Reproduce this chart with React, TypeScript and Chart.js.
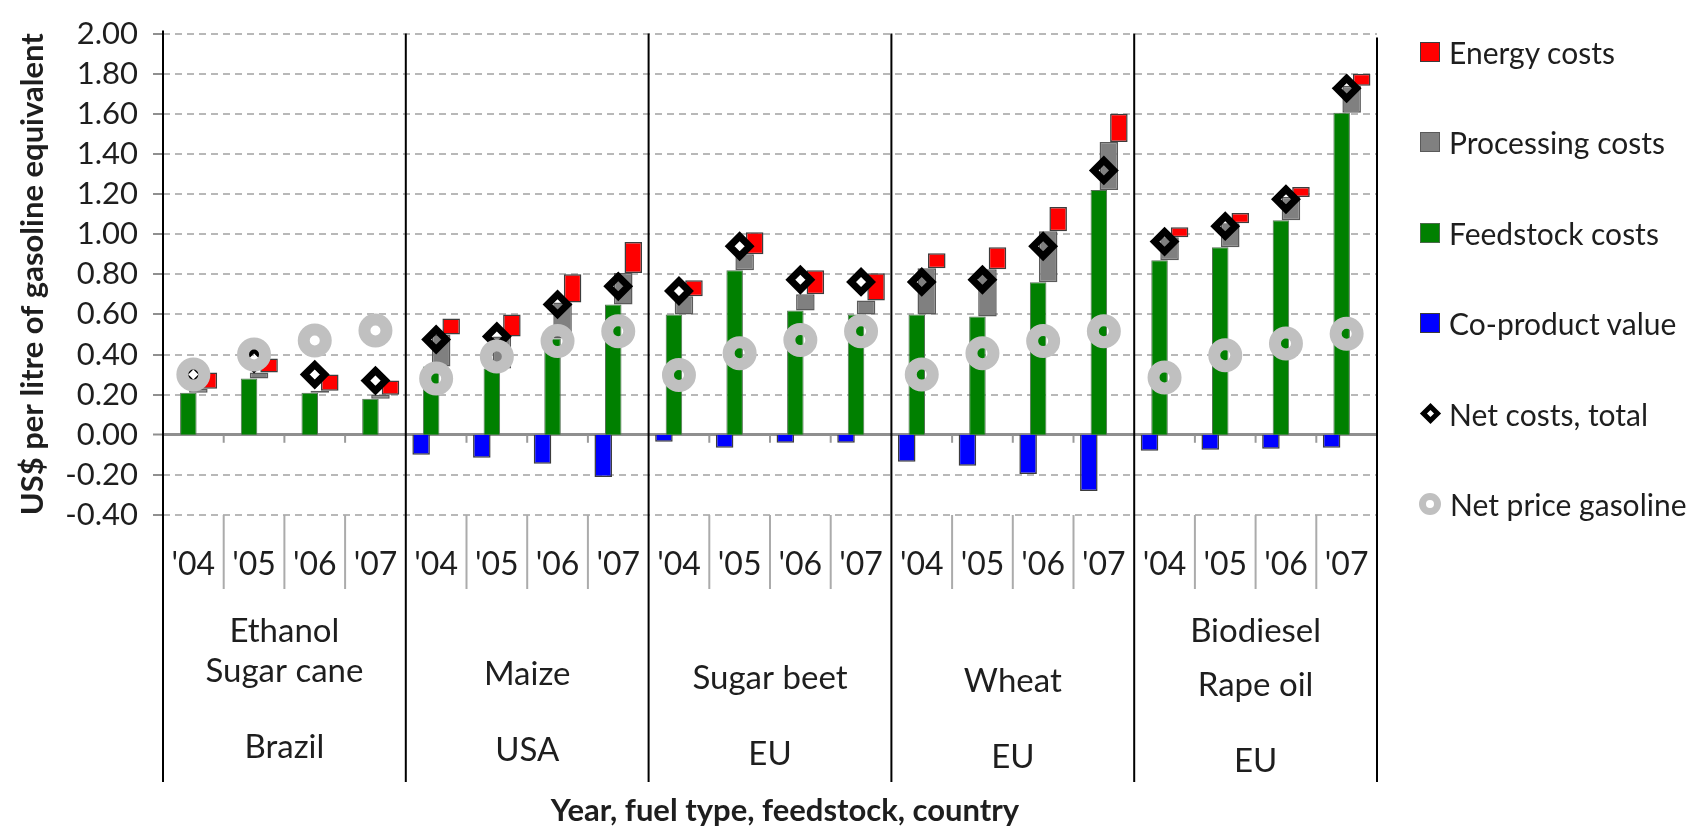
import React, { useEffect, useRef } from 'react';
import { Chart, registerables } from 'chart.js';

Chart.register(...registerables);

// ---------- data ----------
const years = ["'04", "'05", "'06", "'07"];
const fuelTypes = ['Ethanol', '', '', '', 'Biodiesel'];
const feedstocks = ['Sugar cane', 'Maize', 'Sugar beet', 'Wheat', 'Rape oil'];
const countries = ['Brazil', 'USA', 'EU', 'EU', 'EU'];

const feedstockCosts = [
  0.21, 0.28, 0.21, 0.18,
  0.34, 0.33, 0.48, 0.65,
  0.60, 0.82, 0.62, 0.60,
  0.60, 0.59, 0.76, 1.22,
  0.87, 0.935, 1.07, 1.605,
];
const processingCosts = [
  0.02, 0.03, 0.01, 0.02,
  0.16, 0.16, 0.18, 0.156,
  0.09, 0.08, 0.08, 0.07,
  0.23, 0.235, 0.255, 0.24,
  0.115, 0.12, 0.115, 0.135,
];
const energyCosts = [
  0.08, 0.07, 0.08, 0.07,
  0.08, 0.11, 0.14, 0.155,
  0.08, 0.11, 0.12, 0.135,
  0.075, 0.11, 0.12, 0.14,
  0.05, 0.05, 0.05, 0.06,
];
const coProductValue = [
  null, null, null, null,
  -0.10, -0.115, -0.145, -0.21,
  -0.035, -0.065, -0.04, -0.04,
  -0.135, -0.155, -0.195, -0.28,
  -0.08, -0.075, -0.07, -0.065,
];
const netCostsTotal = [
  0.30, 0.38, 0.30, 0.27,
  0.475, 0.49, 0.65, 0.74,
  0.717, 0.94, 0.773, 0.762,
  0.762, 0.773, 0.94, 1.318,
  0.963, 1.04, 1.174, 1.727,
];
const netPriceGasoline = [
  0.30, 0.40, 0.47, 0.52,
  0.28, 0.39, 0.467, 0.516,
  0.298, 0.406, 0.472, 0.516,
  0.30, 0.406, 0.467, 0.516,
  0.286, 0.396, 0.455, 0.504,
];

const yTitle = 'US$ per litre of gasoline equivalent';
const xTitle = 'Year, fuel type, feedstock, country';

// ---------- styles ----------
const FONT = 'Lato, "Open Sans", sans-serif';
const TEXT = '#1e1e1e';
const COLORS = {
  energy: '#ff0000',
  processing: '#808080',
  feedstock: '#008000',
  coproduct: '#0000ff',
  net: '#000000',
  gasoline: '#c0c0c0',
};

const legendItems = [
  { label: 'Energy costs', kind: 'rect', fill: COLORS.energy, stroke: '#3c3c3c' },
  { label: 'Processing costs', kind: 'rect', fill: COLORS.processing, stroke: '#5a5a5a' },
  { label: 'Feedstock costs', kind: 'rect', fill: COLORS.feedstock, stroke: '#4a6a4a' },
  { label: 'Co-product value', kind: 'rect', fill: COLORS.coproduct, stroke: '#3c3c3c' },
  { label: 'Net costs, total', kind: 'diamond', fill: 'transparent', stroke: COLORS.net },
  { label: 'Net price gasoline', kind: 'circle', fill: 'transparent', stroke: COLORS.gasoline },
];

const categories = feedstocks.flatMap(() => years);
const perGroup = years.length;

const decorPlugin = {
  id: 'decor',
  afterDraw(chart: any) {
    const { ctx, chartArea, scales } = chart;
    const x = scales.x;
    const y = scales.y;
    const n = categories.length;
    const zeroY = y.getPixelForValue(0);
    const bottom = chartArea.bottom;
    const line = (x1: number, y1: number, x2: number, y2: number, color: string, w: number) => {
      ctx.beginPath();
      ctx.strokeStyle = color;
      ctx.lineWidth = w;
      ctx.moveTo(x1, y1);
      ctx.lineTo(x2, y2);
      ctx.stroke();
    };
    ctx.save();
    // thin separators between years + small axis ticks on zero line
    for (let i = 1; i < n; i++) {
      if (i % perGroup === 0) continue;
      const bx = (x.getPixelForTick(i - 1) + x.getPixelForTick(i)) / 2;
      line(bx, bottom, bx, bottom + 74, '#ababab', 2);
      line(bx, zeroY + 1, bx, zeroY + 8, '#9a9a9a', 2);
    }
    // group separators
    const groups = feedstocks.length;
    for (let g = 0; g <= groups; g++) {
      let bx: number;
      let top = chartArea.top;
      if (g === 0) { bx = chartArea.left; top = chartArea.top - 3; }
      else if (g === groups) { bx = chartArea.right; top = chartArea.top + 4; }
      else bx = (x.getPixelForTick(g * perGroup - 1) + x.getPixelForTick(g * perGroup)) / 2;
      line(bx, top, bx, bottom + 267, '#000000', 2);
    }
    // group labels
    ctx.fillStyle = TEXT;
    ctx.textAlign = 'center';
    ctx.textBaseline = 'middle';
    ctx.font = `33px ${FONT}`;
    for (let g = 0; g < groups; g++) {
      const cx = (x.getPixelForTick(g * perGroup) + x.getPixelForTick(g * perGroup + perGroup - 1)) / 2;
      const drift = g * 3.5;
      if (fuelTypes[g]) ctx.fillText(fuelTypes[g], cx, bottom + 116);
      ctx.fillText(feedstocks[g], cx, bottom + 156 + drift);
      ctx.fillText(countries[g], cx, bottom + 232 + drift);
    }
    // x title
    ctx.font = `bold 31px ${FONT}`;
    ctx.fillText(xTitle, (chartArea.left + chartArea.right) / 2 + 15, bottom + 296);
    ctx.restore();
  },
};

function LegendMarker({ item }: { item: any }) {
  if (item.kind === 'rect') {
    return (
      <div style={{ width: 20, height: 20, boxSizing: 'border-box', background: item.fill, border: `1.5px solid ${item.stroke}` }} />
    );
  }
  if (item.kind === 'diamond') {
    return (
      <div style={{ width: 20, height: 20, display: 'flex', alignItems: 'center', justifyContent: 'center' }}>
        <div style={{ width: 15, height: 15, boxSizing: 'border-box', border: `5px solid ${item.stroke}`, transform: 'rotate(45deg)' }} />
      </div>
    );
  }
  return (
    <div style={{ width: 22, height: 22, boxSizing: 'border-box', borderRadius: '50%', border: `7px solid ${item.stroke}`, marginLeft: -1 }} />
  );
}

export default function App() {
  const canvasRef = useRef<HTMLCanvasElement | null>(null);

  useEffect(() => {
    const canvas = canvasRef.current;
    if (!canvas) return;
    const chart = new Chart(canvas, {
      type: 'bar',
      data: {
        labels: categories,
        datasets: [
          {
            type: 'line',
            label: 'Net price gasoline',
            data: netPriceGasoline,
            showLine: false,
            pointStyle: 'circle',
            pointRadius: 11,
            pointHoverRadius: 11,
            pointBorderWidth: 12,
            pointBorderColor: COLORS.gasoline,
            pointBackgroundColor: 'rgba(0,0,0,0)',
            order: 0,
          },
          {
            type: 'line',
            label: 'Net costs, total',
            data: netCostsTotal,
            showLine: false,
            pointStyle: 'rectRot',
            pointRadius: 10,
            pointHoverRadius: 10,
            pointBorderWidth: 7,
            pointBorderColor: COLORS.net,
            pointBackgroundColor: 'rgba(0,0,0,0)',
            order: 1,
          },
          {
            type: 'bar',
            label: 'Co-product value',
            data: coProductValue,
            backgroundColor: COLORS.coproduct,
            borderColor: '#3c3c3c',
            borderWidth: 1.5,
            categoryPercentage: 0.66,
            barPercentage: 1.75,
            order: 2,
          },
          {
            type: 'bar',
            label: 'Feedstock costs',
            data: feedstockCosts.map((f) => [0, f]),
            backgroundColor: COLORS.feedstock,
            borderColor: '#557055',
            borderWidth: 1,
            categoryPercentage: 0.66,
            barPercentage: 1.65,
            order: 3,
          },
          {
            type: 'bar',
            label: 'Processing costs',
            data: feedstockCosts.map((f, i) => [f, f + processingCosts[i]]),
            backgroundColor: COLORS.processing,
            borderColor: '#5a5a5a',
            borderWidth: 1.5,
            borderSkipped: false,
            categoryPercentage: 0.66,
            barPercentage: 1.85,
            order: 4,
          },
          {
            type: 'bar',
            label: 'Energy costs',
            data: feedstockCosts.map((f, i) => [f + processingCosts[i], f + processingCosts[i] + energyCosts[i]]),
            backgroundColor: COLORS.energy,
            borderColor: '#3c3c3c',
            borderWidth: 1.5,
            borderSkipped: false,
            categoryPercentage: 0.66,
            barPercentage: 1.75,
            order: 5,
          },
        ],
      },
      options: {
        responsive: true,
        maintainAspectRatio: false,
        animation: false,
        layout: { padding: { top: 26, right: 318, left: 0, bottom: 0 } },
        plugins: {
          legend: { display: false },
          tooltip: { enabled: false },
        },
        scales: {
          x: {
            type: 'category',
            offset: true,
            grid: { display: false },
            border: { display: false },
            ticks: {
              font: { family: FONT, size: 32 },
              color: TEXT,
              padding: 22,
              maxRotation: 0,
              autoSkip: false,
            },
            afterFit: (s: any) => { s.height = 312; },
          },
          y: {
            min: -0.4,
            max: 2.0,
            ticks: {
              stepSize: 0.2,
              autoSkip: false,
              callback: (v: any) => {
                const n = Number(v);
                return (Math.abs(n) < 1e-9 ? 0 : n).toFixed(2);
              },
              font: { family: FONT, size: 31 },
              color: TEXT,
              padding: 15,
            },
            grid: {
              color: (c: any) => (c.tick && Math.abs(c.tick.value) < 1e-9 ? '#8f8f8f' : '#b8b8b8'),
              lineWidth: (c: any) => (c.tick && Math.abs(c.tick.value) < 1e-9 ? 3 : 2),
              drawTicks: true,
              tickLength: 10,
              tickColor: '#8f8f8f',
              tickWidth: 2,
              tickBorderDash: [],
            },
            border: {
              display: false,
              dash: (c: any) => (c.tick && Math.abs(c.tick.value) < 1e-9 ? [] : [7, 5]),
            },
            title: {
              display: true,
              text: yTitle,
              font: { family: FONT, size: 31, weight: 'bold' },
              color: TEXT,
              padding: { top: 14, bottom: 0 },
            },
            afterFit: (s: any) => { s.width = 163; },
          },
        },
      },
      plugins: [decorPlugin],
    } as any);
    return () => chart.destroy();
  }, []);

  return (
    <div style={{ position: 'fixed', left: 0, top: 0, width: 1695, height: 827, background: '#ffffff' }}>
      <canvas ref={canvasRef} />
      <div style={{ position: 'absolute', left: 1420, top: 0 }}>
        {legendItems.map((item, i) => (
          <div
            key={item.label}
            style={{
              position: 'absolute',
              left: 0,
              top: 52 + i * 90.4 - 20,
              height: 40,
              display: 'flex',
              alignItems: 'center',
              whiteSpace: 'nowrap',
              fontFamily: FONT,
              fontSize: 30,
              color: TEXT,
            }}
          >
            <LegendMarker item={item} />
            <span style={{ marginLeft: 9 }}>{item.label}</span>
          </div>
        ))}
      </div>
    </div>
  );
}
